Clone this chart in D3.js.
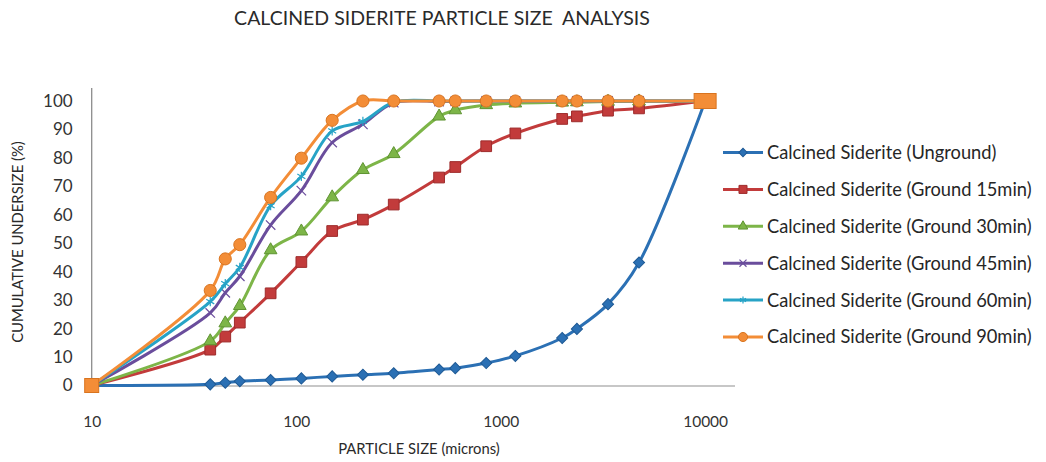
<!DOCTYPE html>
<html>
<head>
<meta charset="utf-8">
<script src="https://cdn.jsdelivr.net/npm/d3@7"></script>
<style>
  html, body { margin: 0; padding: 0; background: #fff; }
  svg { display: block; font-family: Lato, "Liberation Sans", sans-serif; }
</style>
</head>
<body>
<svg id="chart" width="1046" height="462"></svg>
<script>
// Sieve sizes (microns) shared by every series
const sizes = [10, 38, 45, 53, 75, 106, 150, 212, 300, 500, 600, 850, 1180, 2000, 2360, 3350, 4750, 10000];

// Cumulative undersize (%) per grinding time
const unground  = [0, 0.4, 1.0, 1.5, 1.9, 2.5, 3.2, 3.8, 4.3, 5.6, 6.1, 7.9, 10.4, 16.7, 19.9, 28.6, 43.2, 100];
const ground15  = [0, 12.6, 17.2, 22.1, 32.4, 43.4, 54.3, 58.3, 63.6, 73.1, 76.8, 84.1, 88.6, 93.7, 94.6, 96.6, 97.4, 100];
const ground30  = [0, 15.6, 21.9, 28.0, 47.6, 54.2, 66.2, 75.8, 81.4, 94.6, 96.8, 98.6, 99.2, 99.5, 99.6, 99.8, 99.9, 100];
const ground45  = [0, 25.5, 32.6, 38.4, 56.4, 68.5, 85.4, 91.8, 99.4, 99.8, 99.9, 100, 100, 100, 100, 100, 100, 100];
const ground60  = [0, 29.5, 35.8, 41.5, 63.2, 73.5, 89.5, 92.8, 99.6, 100, 100, 100, 100, 100, 100, 100, 100, 100];
const ground90  = [0, 33.4, 44.5, 49.5, 66.1, 79.9, 93.2, 100, 100, 100, 100, 100, 100, 100, 100, 100, 100, 100];

const seriesNames = [
  "Calcined Siderite (Unground)",
  "Calcined Siderite (Ground 15min)",
  "Calcined Siderite (Ground 30min)",
  "Calcined Siderite (Ground 45min)",
  "Calcined Siderite (Ground 60min)",
  "Calcined Siderite (Ground 90min)"
];
const seriesValues = [unground, ground15, ground30, ground45, ground60, ground90];

const xTicks = [10, 100, 1000, 10000];
const yTicks = [0, 10, 20, 30, 40, 50, 60, 70, 80, 90, 100];

const titleText = "CALCINED SIDERITE PARTICLE SIZE  ANALYSIS";
const xTitle = "PARTICLE SIZE (microns)";
const yTitle = "CUMULATIVE UNDERSIZE (%)";

// Look of each series: colour, marker border, marker kind
const styles = [
  { color: "#2b70b4", edge: "#1f5a95", marker: "diamond" },
  { color: "#c23b3b", edge: "#9e2c2c", marker: "square" },
  { color: "#7db548", edge: "#5f9432", marker: "triangle" },
  { color: "#6a4d9c", edge: "#6a4d9c", marker: "times" },
  { color: "#27a3c6", edge: "#27a3c6", marker: "asterisk" },
  { color: "#f38d37", edge: "#d9741f", marker: "circle" }
];

const svg = d3.select("#chart");
svg.append("rect").attr("width", 1046).attr("height", 462).attr("fill", "#fff");

const plot = { left: 91.7, right: 735, top: 88, bottom: 386 };

const x = d3.scaleLog().domain([10, 14000]).range([plot.left, plot.right]);
const y = d3.scaleLinear().domain([0, 100]).range([385.5, 101]);

// Title
svg.append("text")
  .attr("x", 442).attr("y", 25)
  .attr("text-anchor", "middle")
  .attr("font-size", 19.5)
  .attr("fill", "#2a2a2a")
  .style("white-space", "pre")
  .text(titleText);

// Axis lines
svg.append("line")
  .attr("x1", plot.left).attr("x2", plot.left)
  .attr("y1", plot.top).attr("y2", plot.bottom)
  .attr("stroke", "#8c8c8c").attr("stroke-width", 1.3);
svg.append("line")
  .attr("x1", plot.left).attr("x2", plot.right)
  .attr("y1", plot.bottom).attr("y2", plot.bottom)
  .attr("stroke", "#b4b4b4").attr("stroke-width", 1.5);

// Y axis labels
const yAxis = svg.append("g")
  .attr("transform", `translate(${plot.left},0)`)
  .call(d3.axisLeft(y).tickValues(yTicks).tickSize(0).tickPadding(19));
yAxis.select(".domain").remove();
yAxis.selectAll("text")
  .attr("font-family", "Lato, sans-serif")
  .attr("font-size", 17)
  .attr("fill", "#333");

// X axis labels
const xAxis = svg.append("g")
  .attr("transform", `translate(0,${plot.bottom})`)
  .call(d3.axisBottom(x).tickValues(xTicks).tickFormat(d3.format("d")).tickSize(0).tickPadding(30));
xAxis.select(".domain").remove();
xAxis.selectAll("text")
  .attr("font-family", "Lato, sans-serif")
  .attr("font-size", 15.5)
  .attr("fill", "#333");

// Axis titles
svg.append("text")
  .attr("x", 419).attr("y", 454)
  .attr("text-anchor", "middle")
  .attr("font-size", 14.8)
  .attr("fill", "#2a2a2a")
  .text(xTitle);
svg.append("text")
  .attr("transform", "translate(23,242) rotate(-90)")
  .attr("text-anchor", "middle")
  .attr("font-size", 14.8)
  .attr("fill", "#2a2a2a")
  .text(yTitle);

// Marker drawing
function drawMarker(g, kind, st, scale) {
  const k = scale || 1;
  if (kind === "diamond") {
    g.append("path").attr("d", d3.symbol(d3.symbolSquare, 62 * k * k)())
      .attr("transform", "rotate(45)")
      .attr("fill", st.color).attr("stroke", st.edge).attr("stroke-width", 1);
  } else if (kind === "square") {
    g.append("path").attr("d", d3.symbol(d3.symbolSquare, 115 * k * k)())
      .attr("fill", st.color).attr("stroke", st.edge).attr("stroke-width", 1);
  } else if (kind === "triangle") {
    g.append("path").attr("d", d3.symbol(d3.symbolTriangle, 70 * k * k)())
      .attr("fill", st.color).attr("stroke", st.edge).attr("stroke-width", 1);
  } else if (kind === "circle") {
    g.append("path").attr("d", d3.symbol(d3.symbolCircle, 115 * k * k)())
      .attr("fill", st.color).attr("stroke", st.edge).attr("stroke-width", 1);
  } else if (kind === "times") {
    g.append("path").attr("d", d3.symbol(d3.symbolTimes, 60 * k * k)())
      .attr("fill", "none").attr("stroke", st.color).attr("stroke-width", 1.2);
  } else if (kind === "asterisk") {
    g.append("path").attr("d", d3.symbol(d3.symbolAsterisk, 60 * k * k)())
      .attr("fill", "none").attr("stroke", st.color).attr("stroke-width", 1.2);
  }
}

const line = d3.line()
  .x(d => x(d[0]))
  .y(d => y(d[1]))
  .curve(d3.curveCatmullRom.alpha(0.5));

seriesValues.forEach((vals, si) => {
  const st = styles[si];
  const pts = sizes.map((s, i) => [s, vals[i]]);
  const g = svg.append("g").attr("class", "series");
  g.append("path")
    .attr("d", line(pts))
    .attr("fill", "none")
    .attr("stroke", st.color)
    .attr("stroke-width", 3)
    .attr("stroke-linejoin", "round");
  pts.forEach((p, i) => {
    const m = g.append("g").attr("transform", `translate(${x(p[0])},${y(p[1])})`);
    // the 90 min series ends are drawn with block markers
    if (si === 5 && (i === 0 || i === pts.length - 1)) {
      const w = i === 0 ? 14 : 22, h = i === 0 ? 14 : 15;
      m.append("rect").attr("x", -w / 2).attr("y", -h / 2).attr("width", w).attr("height", h)
        .attr("fill", st.color).attr("stroke", st.edge).attr("stroke-width", 1);
    } else {
      drawMarker(m, st.marker, st, 1);
    }
  });
});

// Legend
const legend = svg.append("g").attr("transform", "translate(723,152.5)");
seriesNames.forEach((name, i) => {
  const st = styles[i];
  const row = legend.append("g").attr("transform", `translate(0,${i * 36.9})`);
  row.append("line").attr("x1", 0).attr("x2", 40).attr("y1", 0).attr("y2", 0)
    .attr("stroke", st.color).attr("stroke-width", 3);
  const m = row.append("g").attr("transform", "translate(20,0)");
  drawMarker(m, st.marker, st, 0.75);
  row.append("text")
    .attr("x", 44).attr("y", 0).attr("dy", "0.35em")
    .attr("font-size", 18.3)
    .attr("fill", "#262626")
    .text(name);
});
</script>
</body>
</html>
